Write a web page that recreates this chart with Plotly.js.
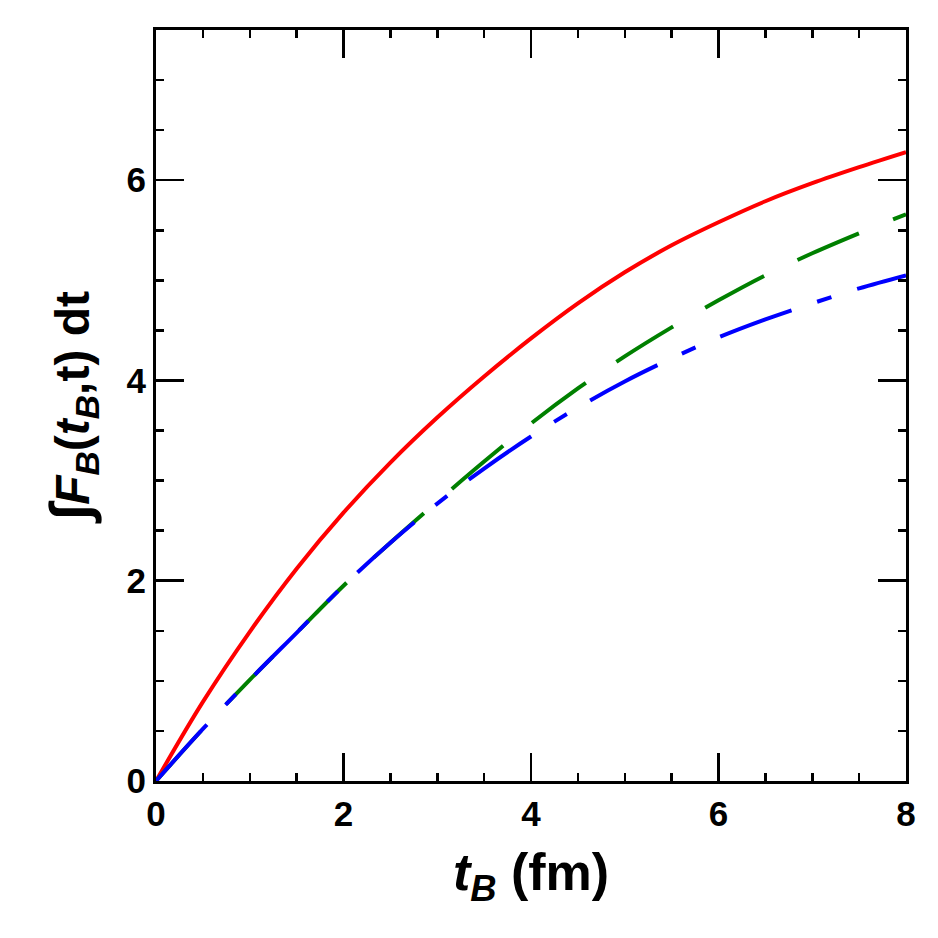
<!DOCTYPE html>
<html>
<head>
<meta charset="utf-8">
<script src="https://cdn.plot.ly/plotly-3.0.1.min.js"></script>
<style>html,body{margin:0;padding:0;background:#fff;}#plot{width:938px;height:938px;}</style>
</head>
<body>
<div id="plot"></div>
<script>
// x values: t_B (fm)
const tB = [0, 0.5, 1, 1.5, 2, 2.5, 3, 3.5, 4, 4.5, 5, 5.5, 6, 6.5, 7, 7.5, 8];
// solid red curve
const redVals = [0, 0.79, 1.49, 2.12, 2.68, 3.18, 3.63, 4.04, 4.42, 4.77, 5.08, 5.35, 5.58, 5.79, 5.97, 6.13, 6.28];
// dashed green curve
const greenVals = [0, 0.52, 1.01, 1.48, 1.95, 2.38, 2.79, 3.19, 3.57, 3.92, 4.24, 4.53, 4.80, 5.05, 5.27, 5.47, 5.66];
// dash-dot blue curve
const blueVals = [0, 0.52, 1.01, 1.48, 1.95, 2.38, 2.77, 3.12, 3.44, 3.73, 3.99, 4.22, 4.43, 4.61, 4.77, 4.92, 5.05];
const xTicks = [0, 2, 4, 6, 8];
const yTicks = [0, 2, 4, 6];

const traces = [
  {x: tB, y: redVals, mode: 'lines', line: {color: '#ff0000', width: 4, shape: 'spline', smoothing: 1}},
  {x: tB, y: greenVals, mode: 'lines', line: {color: '#008000', width: 4, shape: 'spline', smoothing: 1, dash: '67px,37px'}},
  {x: tB, y: blueVals, mode: 'lines', line: {color: '#0000ff', width: 4, shape: 'spline', smoothing: 1, dash: '76px,27px,15px,27px'}}
];

const tickFont = {family: 'Liberation Sans, Arial', size: 35, color: '#000', weight: 'bold'};
const axisCommon = {
  showgrid: false, zeroline: false, showline: true, linecolor: '#000', linewidth: 3,
  mirror: 'allticks', ticks: 'inside', ticklen: 28, tickwidth: 2.5, tickcolor: '#000',
  tickmode: 'array', tickfont: tickFont,
  minor: {ticks: 'inside', ticklen: 8, tickwidth: 2.5, tickcolor: '#000', dtick: 0.5, tick0: 0, showgrid: false}
};

const layout = {
  width: 938, height: 938,
  margin: {l: 156, r: 32, t: 30, b: 157},
  paper_bgcolor: '#fff', plot_bgcolor: '#fff',
  showlegend: false,
  xaxis: Object.assign({}, axisCommon, {
    range: [0, 8], tickvals: xTicks, ticktext: xTicks.map(String),
    title: {text: '<b><i>t</i><sub><i>B</i></sub> (fm)</b>', font: {family: 'Liberation Sans, Arial', size: 52, color: '#000'}, standoff: 22}
  }),
  yaxis: Object.assign({}, axisCommon, {
    range: [0, 7.5], tickvals: yTicks, ticktext: yTicks.map(String),
    title: {text: '<b><span style="font-size:56px">∫</span><i>F</i><sub><i>B</i></sub>(<i>t</i><sub><i>B</i></sub>,t) dt</b>', font: {family: 'Liberation Sans, Arial', size: 48, color: '#000'}, standoff: 22}
  })
};

Plotly.newPlot('plot', traces, layout, {displayModeBar: false, staticPlot: true});
</script>
</body>
</html>
